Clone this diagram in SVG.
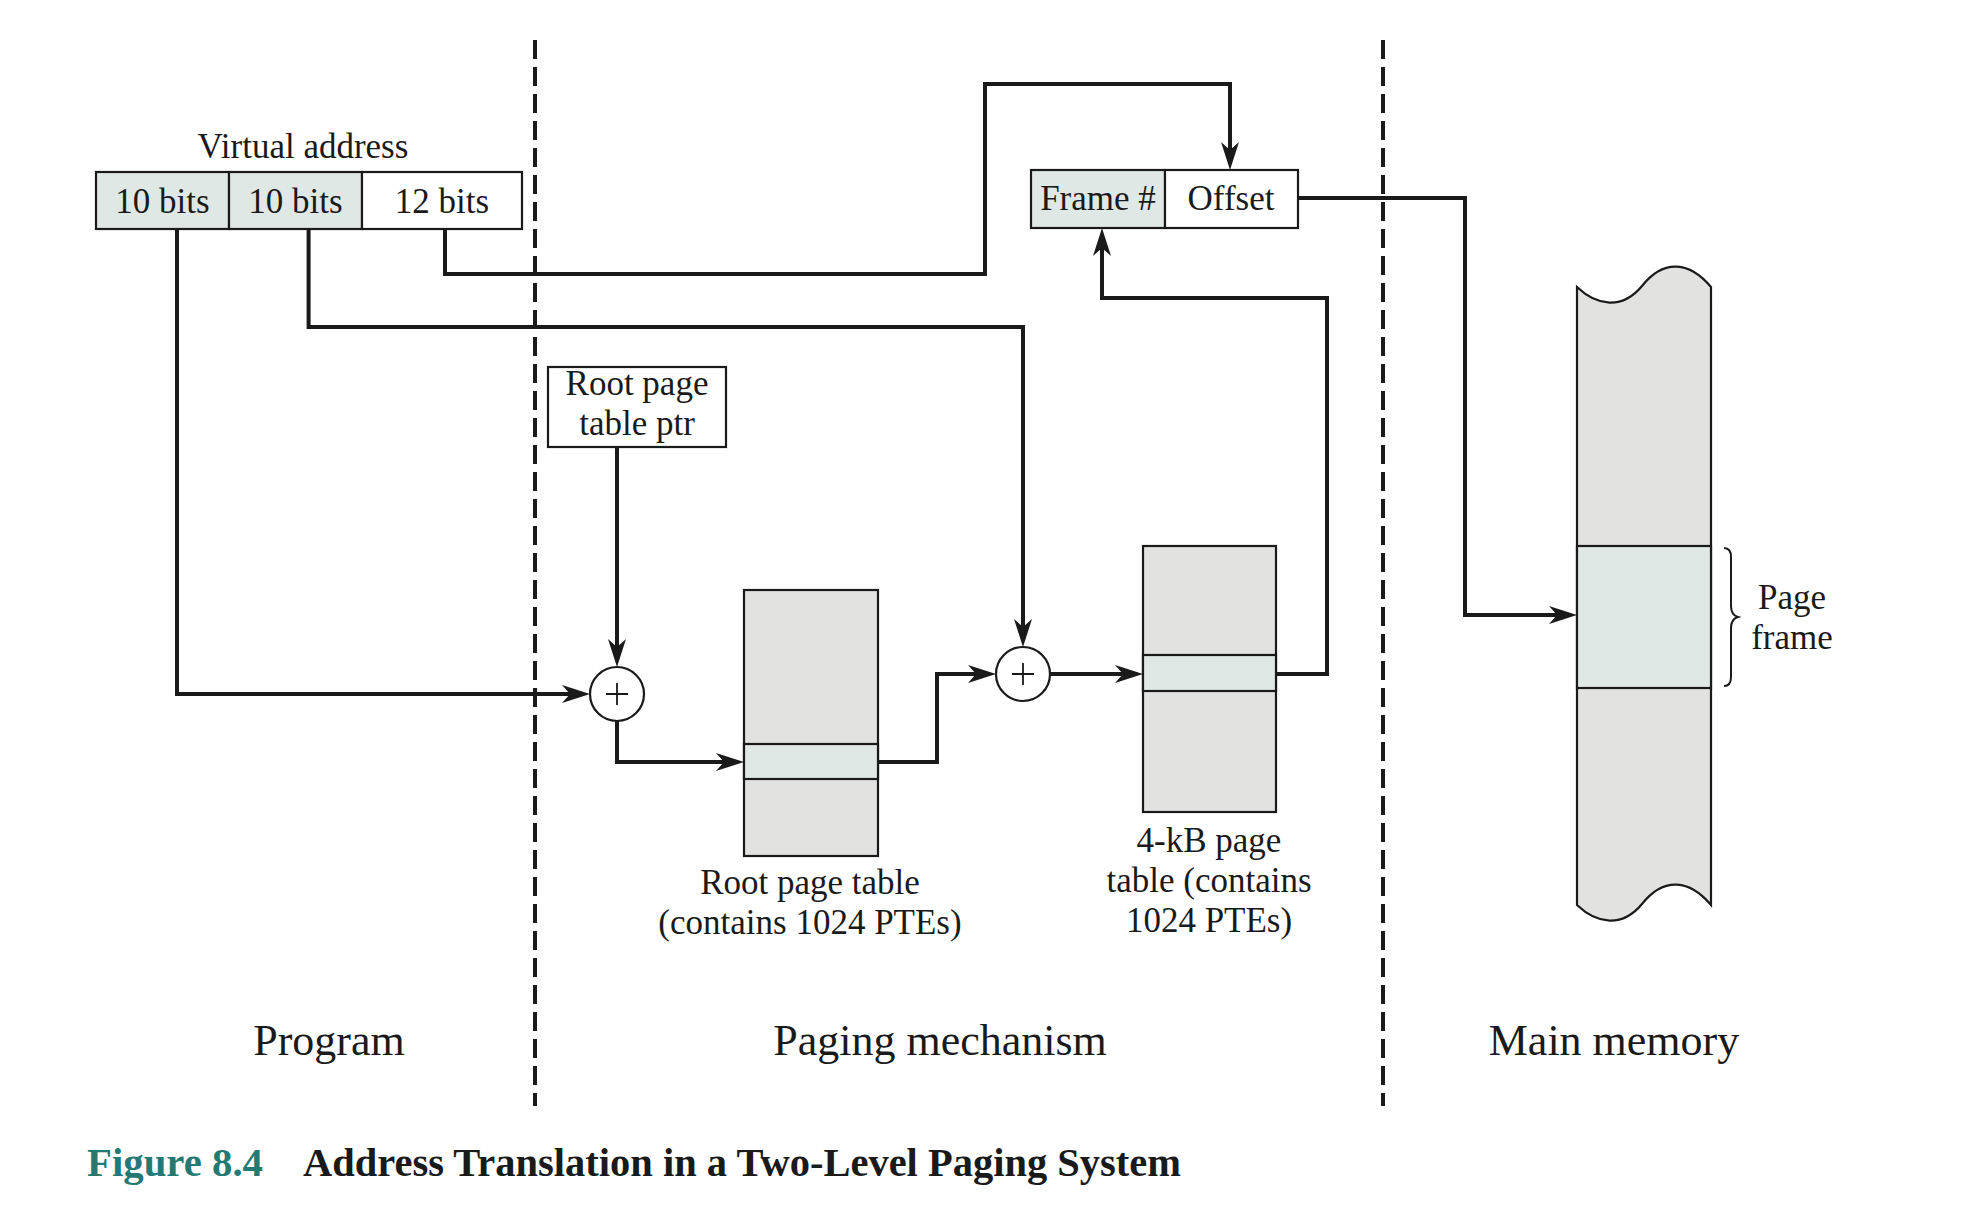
<svg xmlns="http://www.w3.org/2000/svg" width="1978" height="1224" viewBox="0 0 1978 1224">
<defs>
<marker id="arr" viewBox="0 0 28 18" refX="22" refY="9" markerWidth="28" markerHeight="18" markerUnits="userSpaceOnUse" orient="auto">
<path d="M0,0 L28,9 L0,18 L8,9 Z" fill="#1a1a1a"/>
</marker>
</defs>
<style>
text{font-family:"Liberation Serif","Times New Roman",serif;fill:#1a1a1a}
.t{font-size:35px}
.big{font-size:44px}
.box{stroke:#1a1a1a;stroke-width:2.2}
.gray{fill:#e2e2e1}
.teal{fill:#dfe8e5}
.white{fill:#ffffff}
.conn{fill:none;stroke:#1a1a1a;stroke-width:4;stroke-linejoin:miter}
.dash{stroke:#1a1a1a;stroke-width:4;stroke-dasharray:19 8}
</style>
<rect width="1978" height="1224" fill="#ffffff"/>

<g id="dividers">
<line class="dash" x1="535" y1="40" x2="535" y2="1106"/>
<line class="dash" x1="1383" y1="40" x2="1383" y2="1106"/>
</g>

<g id="virtual-address">
<text class="t" x="303" y="158" text-anchor="middle">Virtual address</text>
<rect class="box teal" x="96" y="172" width="133" height="57"/>
<rect class="box teal" x="229" y="172" width="133" height="57"/>
<rect class="box white" x="362" y="172" width="160" height="57"/>
<text class="t" x="162.5" y="213" text-anchor="middle">10 bits</text>
<text class="t" x="295.5" y="213" text-anchor="middle">10 bits</text>
<text class="t" x="442" y="213" text-anchor="middle">12 bits</text>
</g>

<g id="physical-address">
<rect class="box teal" x="1031" y="170" width="134" height="58"/>
<rect class="box white" x="1165" y="170" width="133" height="58"/>
<text class="t" x="1098" y="210" text-anchor="middle">Frame #</text>
<text class="t" x="1231" y="210" text-anchor="middle">Offset</text>
</g>

<g id="root-ptr">
<rect class="box white" x="548" y="367" width="178" height="80"/>
<text class="t" x="637" y="395" text-anchor="middle">Root page</text>
<text class="t" x="637" y="435" text-anchor="middle">table ptr</text>
</g>

<g id="adder1">
<circle cx="617" cy="694" r="27" fill="#ffffff" stroke="#1a1a1a" stroke-width="2.2"/>
<path d="M606,694 H628 M617,683 V705" stroke="#1a1a1a" stroke-width="1.8"/>
</g>

<g id="adder2">
<circle cx="1023" cy="674" r="27" fill="#ffffff" stroke="#1a1a1a" stroke-width="2.2"/>
<path d="M1012,674 H1034 M1023,663 V685" stroke="#1a1a1a" stroke-width="1.8"/>
</g>

<g id="root-table">
<rect class="box gray" x="744" y="590" width="134" height="266"/>
<rect class="box teal" x="744" y="744" width="134" height="35"/>
<text class="t" x="810" y="894" text-anchor="middle">Root page table</text>
<text class="t" x="810" y="934" text-anchor="middle">(contains 1024 PTEs)</text>
</g>

<g id="page-table">
<rect class="box gray" x="1143" y="546" width="133" height="266"/>
<rect class="box teal" x="1143" y="655" width="133" height="36"/>
<text class="t" x="1209" y="852" text-anchor="middle">4-kB page</text>
<text class="t" x="1209" y="892" text-anchor="middle">table (contains</text>
<text class="t" x="1209" y="932" text-anchor="middle">1024 PTEs)</text>
</g>

<g id="main-memory">
<path class="box gray" d="M1577,287 C1597,306 1622,310 1642,286 C1664,258 1690,262 1711,287 V905 C1690,880 1664,876 1642,904 C1622,928 1597,924 1577,905 Z"/>
<rect class="box teal" x="1577" y="546" width="134" height="142"/>
<path d="M1724,548 Q1731,548 1731,557 V606 Q1731,615 1738,617 Q1731,619 1731,628 V677 Q1731,686 1724,686" fill="none" stroke="#1a1a1a" stroke-width="2"/>
<text class="t" x="1792" y="609" text-anchor="middle">Page</text>
<text class="t" x="1792" y="649" text-anchor="middle">frame</text>
</g>

<g id="connectors">
<path class="conn" d="M177,229 V694 H584" marker-end="url(#arr)"/>
<path class="conn" d="M617,447 V661" marker-end="url(#arr)"/>
<path class="conn" d="M617,721 V762 H738" marker-end="url(#arr)"/>
<path class="conn" d="M878,762 H937 V674 H990" marker-end="url(#arr)"/>
<path class="conn" d="M308.6,229 V327 H1023 V641" marker-end="url(#arr)"/>
<path class="conn" d="M1050,674 H1137" marker-end="url(#arr)"/>
<path class="conn" d="M1276,674 H1327 V298 H1102 V234" marker-end="url(#arr)"/>
<path class="conn" d="M445,229 V274 H985 V84 H1230 V164" marker-end="url(#arr)"/>
<path class="conn" d="M1298,198 H1465 V615 H1571" marker-end="url(#arr)"/>
</g>

<g id="labels">
<text class="big" x="329" y="1055" text-anchor="middle">Program</text>
<text class="big" x="940" y="1055" text-anchor="middle">Paging mechanism</text>
<text class="big" x="1614" y="1055" text-anchor="middle">Main memory</text>
</g>

<g id="caption">
<text x="87" y="1176" font-size="41" font-weight="bold" style="fill:#237a74" textLength="176" lengthAdjust="spacingAndGlyphs">Figure 8.4</text>
<text x="303" y="1176" font-size="41" font-weight="bold" textLength="878" lengthAdjust="spacingAndGlyphs">Address Translation in a Two-Level Paging System</text>
</g>
</svg>
